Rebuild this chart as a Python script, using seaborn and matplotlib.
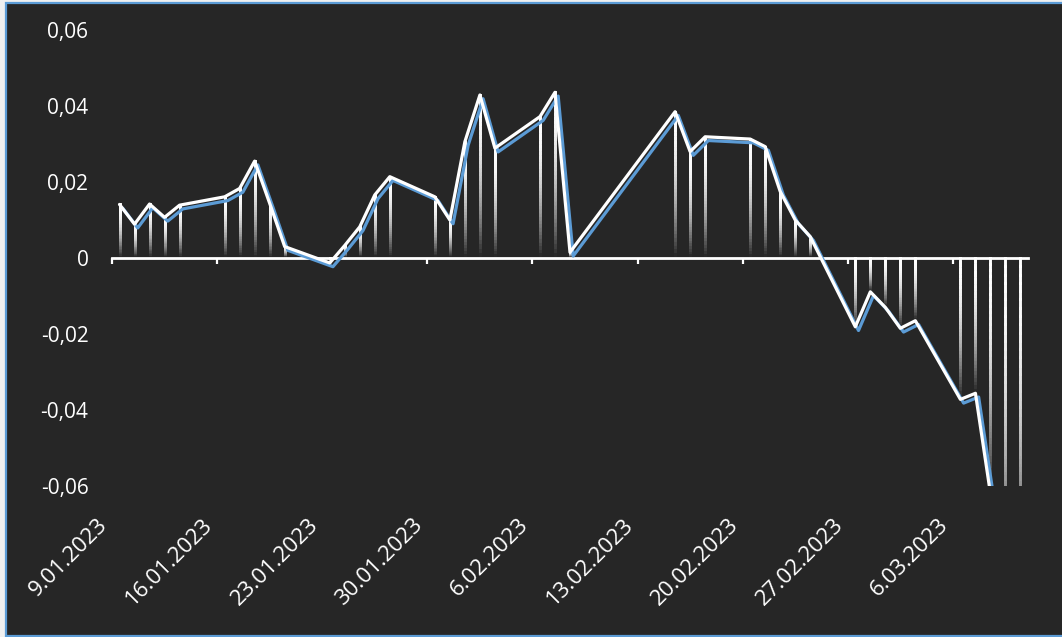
import numpy as np
import pandas as pd
import matplotlib.pyplot as plt
import matplotlib.dates as mdates
import matplotlib.patheffects as pe
from matplotlib.collections import LineCollection
from matplotlib.patches import Rectangle
from matplotlib.ticker import FuncFormatter, MultipleLocator
from matplotlib.colors import to_rgb
import seaborn as sns

# daily values (trading days only)
dates = ["2023-01-09", "2023-01-10", "2023-01-11", "2023-01-12", "2023-01-13",
         "2023-01-16", "2023-01-17", "2023-01-18", "2023-01-19", "2023-01-20",
         "2023-01-23", "2023-01-24", "2023-01-25", "2023-01-26", "2023-01-27",
         "2023-01-30", "2023-01-31", "2023-02-01", "2023-02-02", "2023-02-03",
         "2023-02-06", "2023-02-07", "2023-02-08", "2023-02-15", "2023-02-16",
         "2023-02-17", "2023-02-20", "2023-02-21", "2023-02-22", "2023-02-23",
         "2023-02-24", "2023-02-27", "2023-02-28", "2023-03-01", "2023-03-02",
         "2023-03-03", "2023-03-06", "2023-03-07", "2023-03-08", "2023-03-09",
         "2023-03-10"]
values = [0.0141, 0.0089, 0.0142, 0.0107, 0.0139,
          0.0161, 0.0183, 0.0255, 0.0144, 0.0030,
          -0.0013, 0.0033, 0.0082, 0.0166, 0.0214,
          0.0161, 0.0100, 0.0306, 0.0429, 0.0289,
          0.0372, 0.0436, 0.0015, 0.0385, 0.0280,
          0.0319, 0.0313, 0.0293, 0.0175, 0.0100,
          0.0056, -0.0181, -0.0089, -0.0130, -0.0185,
          -0.0165, -0.0372, -0.0356, -0.0620, -0.0850,
          -0.0850]
x_start = "2023-01-09"
x_end = "2023-03-11"

bg = "#262626"
blue = "#5b9bd5"
font = "Open Sans"

sns.set_style("dark")
plt.rcParams["font.family"] = [font, "DejaVu Sans"]

# points sit in the middle of their day
x = mdates.date2num(pd.to_datetime(dates)) + 0.5
df = pd.DataFrame({"x": x, "value": values})

# weekly ticks on Mondays
mondays = pd.date_range(x_start, x_end, freq="W-MON")
tick_x = mdates.date2num(mondays)
tick_labels = [f"{d.day}.{d.month:02d}.{d.year}" for d in mondays]

fig = plt.figure(figsize=(10.62, 6.37), dpi=100)
fig.patch.set_facecolor("#f0f0f0")
fig.patches.append(Rectangle((5.5 / 1062, 1.5 / 637), 1.1, 632.5 / 637,
                             transform=fig.transFigure, facecolor=bg,
                             edgecolor=blue, linewidth=1.6, zorder=-10))

ax = fig.add_axes([112 / 1062, 1 - 486 / 637, 916 / 1062, 456 / 637])
ax.patch.set_alpha(0)

# gradient drop lines from zero to each point (white at top, dark at bottom)
top_c = np.array(to_rgb("white"))
bot_c = np.array(to_rgb("#2a2a2a"))
segs, cols = [], []
for xi, v in zip(df["x"], df["value"]):
    ys = np.linspace(max(v, 0), min(v, 0), 40)
    for k in range(len(ys) - 1):
        segs.append([(xi, ys[k]), (xi, ys[k + 1])])
        t = (k / (len(ys) - 2)) ** 2
        cols.append(top_c * (1 - t) + bot_c * t)
ax.add_collection(LineCollection(segs, colors=cols, linewidths=2.1,
                                 capstyle="projecting", zorder=2))

sns.lineplot(data=df, x="x", y="value", ax=ax, color="white", linewidth=2.3,
             zorder=4,
             path_effects=[pe.SimpleLineShadow(offset=(2.3, -2.7),
                                               shadow_color=blue, alpha=1),
                           pe.Normal()])

ax.set_xlim(mdates.date2num(pd.Timestamp(x_start)), mdates.date2num(pd.Timestamp(x_end)))
ax.set_ylim(-0.06, 0.06)
ax.set_xlabel("")
ax.set_ylabel("")
ax.grid(False)

for s in ["top", "right", "left"]:
    ax.spines[s].set_visible(False)
ax.spines["bottom"].set_position(("data", 0))
ax.spines["bottom"].set_color("white")
ax.spines["bottom"].set_linewidth(2)
ax.spines["bottom"].set_zorder(3)

ax.set_xticks(tick_x)
ax.tick_params(axis="x", direction="out", length=4, width=1.6, color="white",
               labelbottom=False, bottom=True)
ax.yaxis.set_major_locator(MultipleLocator(0.02))
ax.yaxis.set_major_formatter(FuncFormatter(
    lambda v, p: "0" if abs(v) < 1e-9 else f"{v:.2f}".replace(".", ",")))
ax.tick_params(axis="y", length=0, pad=17, labelcolor="white", labelsize=15)

# date labels at the bottom of the plot area
sec = ax.secondary_xaxis(0)
sec.spines["bottom"].set_visible(False)
sec.tick_params(axis="x", length=0, pad=31, labelcolor="white", labelsize=16)
sec.set_xticks(tick_x, tick_labels, rotation=45, ha="right", va="bottom",
               rotation_mode="anchor")

plt.savefig("out.png", dpi=100, facecolor=fig.get_facecolor())
